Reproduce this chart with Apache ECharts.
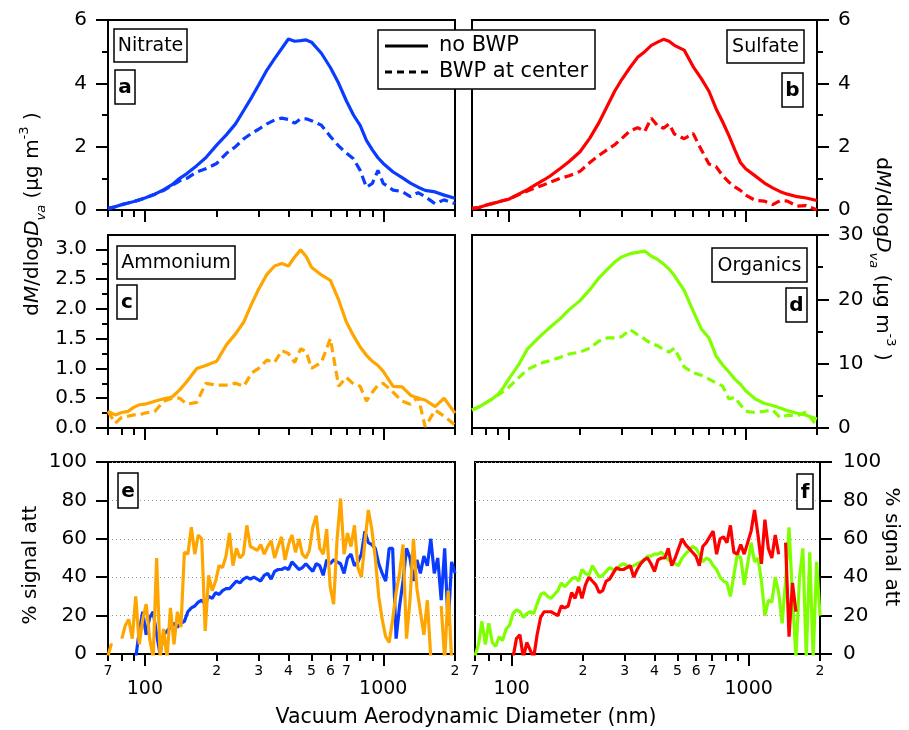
<!DOCTYPE html>
<html><head><meta charset="utf-8">
<script src="https://cdn.jsdelivr.net/npm/echarts@6/dist/echarts.min.js"></script>
<style>html,body{margin:0;padding:0;background:#fff}#c{width:909px;height:730px}</style>
</head><body><div id="c"></div>
<script>
// ---------- data ----------
// size-distribution diameters (nm), panels a-d
const diam = [70,75,80,85,90,95,100,110,120,130,140,150,165,180,200,220,240,260,280,300,325,350,375,400,425,450,475,500,550,600,650,700,750,800,850,900,950,1000,1100,1200,1300,1400,1500,1650,1800,2000];
const nitrateNoBWP = [0.05,0.10,0.17,0.22,0.27,0.32,0.38, 0.50,0.64,0.80,1.00,1.15,1.40,1.65, 2.05,2.38,2.72,3.15,3.55,3.95, 4.42,4.78,5.10,5.40,5.33,5.35,5.37,5.30, 4.95,4.50,4.00,3.45,3.00,2.67,2.20,1.90,1.65,1.47, 1.20,1.02,0.85,0.72,0.62,0.57,0.47,0.37];
const nitrateBWP = [0.05,0.10,0.17,0.22,0.27,0.32,0.38, 0.50,0.62,0.78,0.92,1.00,1.20,1.30, 1.47,1.79,2.00,2.25,2.42,2.55, 2.72,2.84,2.90,2.86,2.74,2.88,2.88,2.82, 2.68,2.32,2.02,1.80,1.62,1.25,0.72,0.84,1.25,0.84, 0.63,0.58,0.42,0.55,0.42,0.20,0.32,0.20];
const sulfateNoBWP = [0.05,0.08,0.15,0.20,0.25,0.30,0.34, 0.50,0.64,0.80,0.94,1.08,1.31,1.53, 1.84,2.27,2.75,3.27,3.75,4.12, 4.50,4.82,5.00,5.20,5.30,5.39,5.33,5.20, 5.05,4.53,4.15,3.75,3.20,2.78,2.35,1.90,1.50,1.30, 1.07,0.85,0.70,0.58,0.50,0.42,0.38,0.30];
const sulfateBWP = [0.05,0.08,0.15,0.20,0.25,0.30,0.34, 0.48,0.60,0.70,0.79,0.88,1.00,1.08, 1.22,1.50,1.72,1.90,2.06,2.26, 2.50,2.60,2.48,2.90,2.66,2.58,2.72,2.40, 2.25,2.42,1.90,1.45,1.37,1.08,0.88,0.73,0.62,0.47, 0.30,0.28,0.17,0.30,0.28,0.12,0.14,0.00];
const ammoniumNoBWP = [0.28,0.22,0.26,0.28,0.35,0.39,0.40, 0.45,0.49,0.52,0.64,0.78,1.00,1.05, 1.12,1.40,1.58,1.78,2.08,2.33, 2.58,2.72,2.76,2.72,2.87,2.99,2.88,2.70, 2.57,2.48,2.15,1.78,1.55,1.36,1.22,1.12,1.05,0.95, 0.70,0.69,0.55,0.50,0.47,0.36,0.50,0.25];
const ammoniumBWP = [0.28,0.08,0.18,0.20,0.22,0.22,0.25, 0.28,0.45,0.50,0.50,0.40,0.43,0.75, 0.72,0.72,0.75,0.70,0.92,1.00, 1.14,1.10,1.30,1.25,1.10,1.33,1.28,1.00, 1.10,1.50,0.70,0.85,0.74,0.70,0.45,0.60,0.72,0.75, 0.60,0.45,0.40,0.52,0.02,0.30,0.20,0.05];
const organicsNoBWP = [2.8,3.3,3.9,4.5,5.2,6.3,7.6, 9.8,12.3,13.6,14.7,15.7,17.0,18.4, 19.8,21.5,23.3,24.6,25.8,26.6, 27.1,27.3,27.5,26.7,26.2,25.5,24.7,23.7, 21.4,18.2,15.4,14.0,11.2,9.8,8.7,7.6,6.8,5.8, 4.5,3.8,3.5,3.1,2.7,2.3,2.0,1.4];
const organicsBWP = [2.8,3.3,3.9,4.5,5.1,5.7,6.3, 7.8,9.1,9.7,10.2,10.5,11.0,11.5, 11.8,12.4,13.5,14.0,14.0,14.2, 15.3,14.5,13.8,13.1,12.8,12.2,11.8,12.4, 9.5,8.6,8.2,7.6,7.0,6.5,4.5,4.8,3.6,2.6, 2.4,2.6,2.8,1.6,2.0,1.9,2.5,0.3];

// % signal attenuation diameters (nm), panels e-f
const diamFine = [70,72.4,74.9,77.4,80.0,82.8,85.6,88.5,91.5,94.7,
 97.9,101.2,104.7,108.3,112.0,115.8,119.7,123.8,128.0,132.4,
 136.9,141.6,146.4,151.4,156.6,161.9,167.4,173.1,179.0,185.1,
 191.5,198.0,204.7,211.7,218.9,226.4,234.1,242.1,250.4,258.9,
 267.7,276.9,286.3,296.1,306.2,316.6,327.4,338.6,350.1,362.1,
 374.4,387.2,400.4,414.0,428.2,442.8,457.9,473.5,489.6,506.3,
 523.6,541.4,559.9,579.0,598.7,619.1,640.3,662.1,684.7,708.0,
 732.2,757.2,783.0,809.7,837.3,865.8,895.4,925.9,957.5,990.1,
 1023.9,1058.8,1094.9,1132.2,1170.8,1210.7,1252.0,1294.7,1338.8,1384.5,
 1431.7,1480.5,1530.9,1583.1,1637.1,1692.9,1750.6,1810.3,1872.0,1935.8,
 2000];
const attNitrate = [null,null,null,null,null,null,null,null,-2,12,
 22,10,19,22,10,0,10,12,14,16,
 14,16,17,22,24,25,27,28,26,30,
 29,32,31,33,34,34,36,38,37,39,
 40,39,40,39,38,41,42,39,43,44,
 44,45,44,48,46,44,45,47,45,43,
 47,46,41,49,47,49,48,47,42,50,
 52,46,48,52,64,58,57,55,47,42,
 38,55,55,8,25,38,55,50,38,49,
 42,51,46,60,42,50,28,55,15,48,
 42];
const attAmmonium = [-1,5.5,null,null,8,15,18,8,30,5,
 18,26,8,-2,50,-2,13,-2,24,5,
 22,14,53,52,66,52,62,60,12,41,
 33,38,46,45,51,63,46,55,50,52,
 67,56,55,54,57,52,56,59,50,56,
 61,49,57,62,53,60,52,50,54,66,
 72,55,52,65,35,26,60,81,52,63,
 56,67,45,40,58,75,65,50,30,18,
 9,6,18,32,42,57,8,28,60,34,
 22,10,28,-2,null,null,25,-3,33,-3,
 null];
const attOrganics = [-1,5,17,5,16,6,4,9,7,13,
 15,21,23,22,19,21,22,21,26,31,
 32,30,29,31,33,37,35,37,39,40,
 38,44,42,41,46,43,40,41,43,45,
 44,44,46,47,46,45,46,47,48,49,
 51,51,52,52,53,51,49,48,47,46,
 50,52,54,56,55,52,48,50,49,46,
 44,40,38,37,30,41,52,50,36,47,
 58,48,50,38,20,28,27,40,32,16,
 38,66,30,-2,39,55,-2,53,-2,48,
 20];
const attSulfate = [null,null,null,null,null,null,null,null,null,null,
 null,-2,8,10,-2,6,2,-2,10,19,
 22,22,22,21,20,25,24,25,32,29,
 35,29,36,40,38,36,32,33,38,39,
 42,45,44,44,45,46,40,44,47,49,
 50,47,43,49,50,50,55,46,50,55,
 60,57,55,53,51,46,56,58,61,64,
 52,60,61,58,67,53,52,57,52,58,
 64,75,62,47,70,55,50,62,52,null,
 58,9,37,22,null,null,null,null,null,null,
 null];

// ticks
const xMajorTicks = [100, 1000];
const xMinorTicks = [70,80,90,200,300,400,500,600,700,800,900,2000];
const xMinorLabeled = [70,200,300,400,500,600,700,2000];
const yTicksTop = [0,2,4,6], yMinorTop = [1,3,5];
const yTicksNH4 = [0,0.5,1,1.5,2,2.5,3], yMinorNH4 = [0.25,0.75,1.25,1.75,2.25,2.75];
const yTicksOrg = [0,10,20,30], yMinorOrg = [5,15,25];
const yTicksAtt = [0,20,40,60,80,100];

// ---------- chart ----------
const FONT = 'DejaVu Sans';
const LOG = Math.log10;
const XMIN = LOG(70), XMAX = LOG(2000);
const C = {no3:'#0a3cff', so4:'#ff0000', nh4:'#ffa500', org:'#80ff00'};

const layout = [
  {left:108, top:20,  width:347, height:190, pos:'left',  min:0, max:6,    major:yTicksTop, minor:yMinorTop, dec:0, xl:false, margin:21},
  {left:472, top:20,  width:345, height:190, pos:'right', min:0, max:6,    major:yTicksTop, minor:yMinorTop, dec:0, xl:false, margin:21},
  {left:108, top:235, width:347, height:193, pos:'left',  min:0, max:3.24, major:yTicksNH4, minor:yMinorNH4, dec:1, xl:false, margin:21},
  {left:472, top:235, width:345, height:193, pos:'right', min:0, max:30,   major:yTicksOrg, minor:yMinorOrg, dec:0, xl:false, margin:21},
  {left:108, top:462, width:347, height:192, pos:'left',  min:0, max:100,  major:yTicksAtt, minor:[], dec:0, xl:true, margin:21, gridLines:true},
  {left:475, top:462, width:345, height:192, pos:'right', min:0, max:100,  major:yTicksAtt, minor:[], dec:0, xl:true, margin:23, gridLines:true}
];

const grid = [], xAxis = [], yAxis = [];
const lbl = (extra) => Object.assign({color:'#000', fontFamily:FONT}, extra);
layout.forEach((p, i) => {
  const g = {left:p.left, top:p.top, width:p.width, height:p.height};
  grid.push(Object.assign({show:true, borderColor:'#000', borderWidth:2, backgroundColor:'transparent'}, g));
  grid.push(Object.assign({show:false}, g));
  xAxis.push({type:'value', gridIndex:2*i, min:XMIN, max:XMAX, position:'bottom',
    axisLine:{show:true, onZero:false, lineStyle:{color:'#000', width:2}}, splitLine:{show:false},
    axisTick:{show:true, length:12, lineStyle:{color:'#000', width:2}, customValues:xMajorTicks.map(LOG)},
    axisLabel:lbl({show:p.xl, customValues:xMajorTicks.map(LOG), margin:26, fontSize:19,
      formatter:v => String(Math.round(Math.pow(10, v)))})});
  xAxis.push({type:'value', gridIndex:2*i+1, min:XMIN, max:XMAX, position:'bottom',
    axisLine:{show:false, onZero:false}, splitLine:{show:false},
    axisTick:{show:true, length:7, lineStyle:{color:'#000', width:2}, customValues:xMinorTicks.map(LOG)},
    axisLabel:lbl({show:p.xl, customValues:xMinorLabeled.map(LOG), margin:10, fontSize:14,
      formatter:v => String(Math.round(Math.pow(10, v))).charAt(0)})});
  const ymaj = {type:'value', gridIndex:2*i, min:p.min, max:p.max, position:p.pos,
    axisLine:{show:true, onZero:false, lineStyle:{color:'#000', width:2}},
    axisTick:{show:true, length:12, lineStyle:{color:'#000', width:2}, customValues:p.major},
    axisLabel:lbl({show:true, customValues:p.major, margin:p.margin, fontSize:20, formatter:v => v.toFixed(p.dec)}),
    splitLine:{show:!!p.gridLines, lineStyle:{color:'#9a9a9a', width:1, type:[1,3]}}};
  if (p.gridLines) ymaj.interval = 20;
  yAxis.push(ymaj);
  yAxis.push({type:'value', gridIndex:2*i+1, min:p.min, max:p.max, position:p.pos,
    axisLine:{show:false, onZero:false},
    axisTick:{show:p.minor.length > 0, length:6, lineStyle:{color:'#000', width:2}, customValues:p.minor.length ? p.minor : [p.min]},
    axisLabel:{show:false}, splitLine:{show:false}});
});

const series = [];
function addLine(gi, xs, ys, color, dashed) {
  series.push({type:'line', xAxisIndex:2*gi, yAxisIndex:2*gi, silent:true, animation:false,
    symbol:'none', showSymbol:false, connectNulls:false, clip:true,
    data: xs.map((d, k) => [LOG(d), ys[k] === null ? '-' : ys[k]]),
    lineStyle:{color:color, width:3.2, type: dashed ? [9,5] : 'solid'}, itemStyle:{color:color}});
}
addLine(0, diam, nitrateNoBWP, C.no3, false);
addLine(0, diam, nitrateBWP, C.no3, true);
addLine(1, diam, sulfateNoBWP, C.so4, false);
addLine(1, diam, sulfateBWP, C.so4, true);
addLine(2, diam, ammoniumNoBWP, C.nh4, false);
addLine(2, diam, ammoniumBWP, C.nh4, true);
addLine(3, diam, organicsNoBWP, C.org, false);
addLine(3, diam, organicsBWP, C.org, true);
addLine(4, diamFine, attNitrate, C.no3, false);
addLine(4, diamFine, attAmmonium, C.nh4, false);
addLine(5, diamFine, attOrganics, C.org, false);
addLine(5, diamFine, attSulfate, C.so4, false);

// ---------- annotations ----------
const boxes = [
  {t:'Nitrate', x:114, y:29, w:73, h:33},
  {t:'a', x:115, y:70, w:20, h:34, b:true},
  {t:'Sulfate', x:727, y:30, w:77, h:33},
  {t:'b', x:782, y:73, w:21, h:34, b:true},
  {t:'Ammonium', x:117, y:246, w:118, h:33},
  {t:'c', x:117, y:285, w:20, h:34, b:true},
  {t:'Organics', x:712, y:248, w:95, h:34},
  {t:'d', x:786, y:288, w:21, h:34, b:true},
  {t:'e', x:118, y:473, w:20, h:35, b:true},
  {t:'f', x:797, y:474, w:16, h:35, b:true}
];
const graphic = [];
boxes.forEach(b => {
  graphic.push({type:'rect', z:100, shape:{x:b.x, y:b.y, width:b.w, height:b.h}, style:{fill:'#fff', stroke:'#000', lineWidth:1.5}});
  graphic.push({type:'text', z:101, x:b.x + b.w/2, y:b.y + b.h/2 + 1,
    style:{text:b.t, fontSize:b.b ? 20 : 19, fontWeight:b.b ? 'bold' : 'normal', fontFamily:FONT, fill:'#000', align:'center', verticalAlign:'middle'}});
});
// legend
graphic.push({type:'rect', z:100, shape:{x:378, y:30, width:217, height:59}, style:{fill:'#fff', stroke:'#000', lineWidth:1.5}});
graphic.push({type:'line', z:101, shape:{x1:385, y1:46, x2:428, y2:46}, style:{stroke:'#000', lineWidth:3}});
graphic.push({type:'line', z:101, shape:{x1:385, y1:72, x2:430, y2:72}, style:{stroke:'#000', lineWidth:3, lineDash:[7,5]}});
graphic.push({type:'text', z:101, x:439, y:46, style:{text:'no BWP', fontSize:21, fontFamily:FONT, fill:'#000', align:'left', verticalAlign:'middle'}});
graphic.push({type:'text', z:101, x:439, y:72, style:{text:'BWP at center', fontSize:21, fontFamily:FONT, fill:'#000', align:'left', verticalAlign:'middle'}});

const richY = {
  i:{fontSize:20, fontStyle:'italic', fontFamily:FONT, lineHeight:30, verticalAlign:'middle'},
  n:{fontSize:20, fontFamily:FONT, lineHeight:30, verticalAlign:'middle'},
  sub:{fontSize:13, fontStyle:'italic', fontFamily:FONT, lineHeight:13, verticalAlign:'bottom'},
  sup:{fontSize:13, fontFamily:FONT, lineHeight:13, verticalAlign:'top'}
};
const yTitle = '{n|d}{i|M}{n|/dlog}{i|D}{sub|va}{n| (µg m}{sup|-3}{n| )}';
graphic.push({type:'text', z:101, x:33, y:214, rotation:Math.PI/2,
  style:{text:yTitle, rich:richY, fontSize:20, fontFamily:FONT, fill:'#000', align:'center', verticalAlign:'middle'}});
graphic.push({type:'text', z:101, x:882, y:259, rotation:-Math.PI/2,
  style:{text:yTitle, rich:richY, fontSize:20, fontFamily:FONT, fill:'#000', align:'center', verticalAlign:'middle'}});
graphic.push({type:'text', z:101, x:31, y:565, rotation:Math.PI/2,
  style:{text:'% signal att', fontSize:20, fontFamily:FONT, fill:'#000', align:'center', verticalAlign:'middle'}});
graphic.push({type:'text', z:101, x:891, y:547, rotation:-Math.PI/2,
  style:{text:'% signal att', fontSize:20, fontFamily:FONT, fill:'#000', align:'center', verticalAlign:'middle'}});
graphic.push({type:'text', z:101, x:466, y:718,
  style:{text:'Vacuum Aerodynamic Diameter (nm)', fontSize:20.5, fontFamily:FONT, fill:'#000', align:'center', verticalAlign:'middle'}});

const chart = echarts.init(document.getElementById('c'), null, {renderer:'canvas'});
chart.setOption({animation:false, backgroundColor:'#fff', grid, xAxis, yAxis, series, graphic});
</script></body></html>
